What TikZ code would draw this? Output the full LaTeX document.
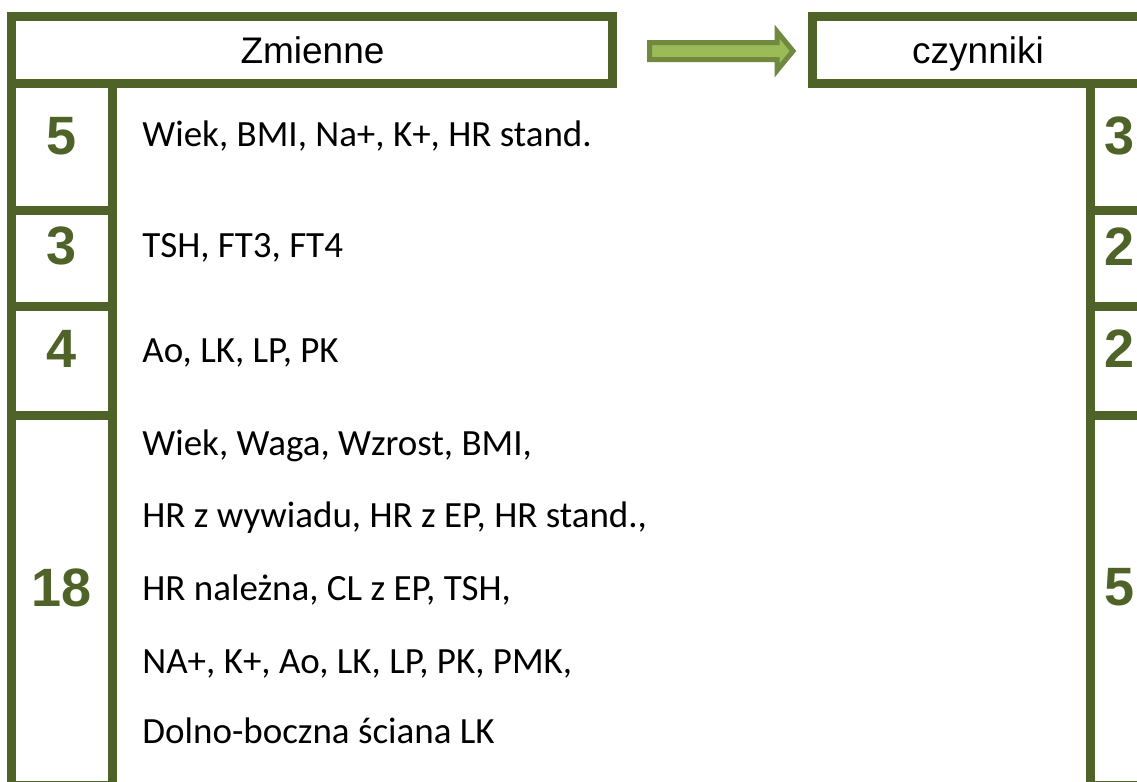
\documentclass[tikz,border=0pt]{standalone}
\usepackage{fontspec}
\setmainfont{Liberation Sans}
\newfontfamily\bodyfont{Carlito}
\definecolor{frame}{HTML}{4F6228}
\definecolor{arrowfill}{HTML}{9BBB59}
\definecolor{arrowline}{HTML}{71893F}
\tikzset{
  frameline/.style={draw=frame, line width=4.5pt, line join=miter},
  headtext/.style={inner sep=0pt, anchor=base, font=\fontsize{18.5}{22}\selectfont},
  itemtext/.style={inner sep=0pt, anchor=base west, font=\bodyfont\fontsize{18.5}{22}\selectfont},
  countnum/.style={inner sep=0pt, anchor=base, text=frame, font=\bfseries\fontsize{27}{32}\selectfont},
  fatarrow/.style={fill=arrowfill, draw=arrowline, line width=2.5pt, line join=miter}
}
\begin{document}
\begin{tikzpicture}[x=0.5pt, y=-0.5pt]
\useasboundingbox (0,0) rectangle (1137,782);
\clip (0,0) rectangle (1137,782);

% left header box and the column of counts
\draw[frameline] (11.5,16.5) rectangle (612.5,83.5);
\draw[frameline] (11.5,83.5) rectangle (112.5,210.5);
\draw[frameline] (11.5,210.5) rectangle (112.5,306.5);
\draw[frameline] (11.5,306.5) rectangle (112.5,415.5);
\draw[frameline] (11.5,415.5) rectangle (112.5,785.5);

% right header box and its column of counts
\draw[frameline] (812,16.5) rectangle (1160,83.5);
\draw[frameline] (1090.5,83.5) rectangle (1160,210.5);
\draw[frameline] (1090.5,210.5) rectangle (1160,306.5);
\draw[frameline] (1090.5,306.5) rectangle (1160,415.5);
\draw[frameline] (1090.5,415.5) rectangle (1160,785.5);

% headers
\node[headtext] (zm) at (312.5,63) {Zmienne};
\node[headtext] (cz) at (978,63) {czynniki};

% block arrow between the headers
\draw[fatarrow] (649.5,42.5) -- (777,42.5) -- (777,31.5) -- (793,51)
  -- (777,70.5) -- (777,59.5) -- (649.5,59.5) -- cycle;

% counts on the left
\node[countnum] (l1) at (62,154) {5};
\node[countnum] (l2) at (62,264) {3};
\node[countnum] (l3) at (62,367) {4};
\node[countnum] (l4) at (62,606) {18};

% counts on the right
\node[countnum] (r1) at (1119.5,154) {3};
\node[countnum] (r2) at (1119.5,265) {2};
\node[countnum] (r3) at (1119.5,367) {2};
\node[countnum] (r4) at (1119.5,605) {5};

% variable lists
\node[itemtext] (t1) at (142,146) {Wiek, BMI, Na+, K+, HR stand.};
\node[itemtext] (t2) at (142,257) {TSH, FT3, FT4};
\node[itemtext] (t3) at (142,362) {Ao, LK, LP, PK};
\node[itemtext] (t4a) at (142,455) {Wiek, Waga, Wzrost, BMI,};
\node[itemtext] (t4b) at (142,527) {HR z wywiadu, HR z EP, HR stand.,};
\node[itemtext] (t4c) at (142,600) {HR należna, CL z EP, TSH,};
\node[itemtext] (t4d) at (142,673) {NA+, K+, Ao, LK, LP, PK, PMK,};
\node[itemtext] (t4e) at (142,743) {Dolno-boczna ściana LK};
\end{tikzpicture}
\end{document}
